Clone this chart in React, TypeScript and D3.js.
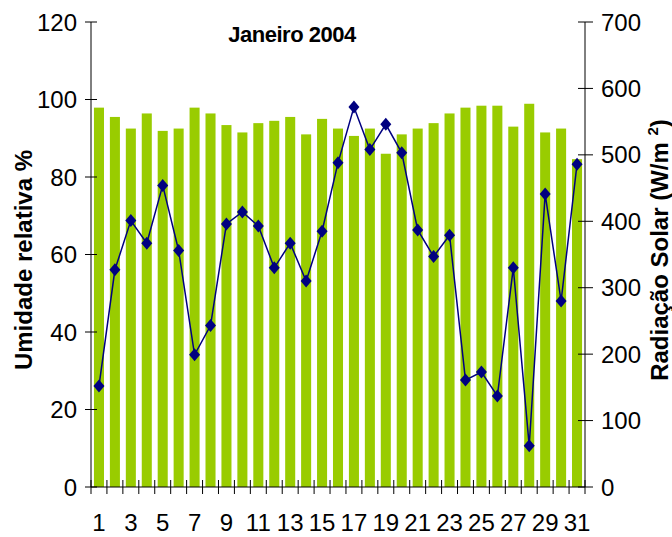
import React from "react";
import * as d3 from "d3";

const days = Array.from({ length: 31 }, (_, i) => String(i + 1));
const humidity = [97.9, 95.5, 92.5, 96.4, 91.9, 92.5, 97.9, 96.4, 93.4, 91.5, 93.9, 94.5, 95.5, 91.0, 95.0, 92.5, 90.6, 92.5, 86.0, 91.0, 92.5, 93.9, 96.4, 97.9, 98.4, 98.4, 93.0, 98.9, 91.5, 92.5, 84.6];
const radiation = [152, 327, 401, 367, 454, 356, 199, 243, 396, 414, 393, 330, 367, 310, 385, 488, 572, 508, 546, 503, 387, 347, 379, 161, 173, 137, 330, 62, 441, 280, 486];
const leftTicks = [0, 20, 40, 60, 80, 100, 120];
const rightTicks = [0, 100, 200, 300, 400, 500, 600, 700];
const title = "Janeiro 2004";

const W = 672, H = 537;
const L = 91, R = 585, T = 22, B = 487;
const FONT = "'Liberation Sans', Arial, sans-serif";

export default function App() {
  const x = d3.scaleBand<string>().domain(days).range([L, R]).paddingInner(0.37).paddingOuter(0.185);
  const yL = d3.scaleLinear().domain([0, 120]).range([B, T]);
  const yR = d3.scaleLinear().domain([0, 700]).range([B, T]);
  const step = x.step();
  const line = d3.line<number>()
    .x((_, i) => (x(days[i]) as number) + x.bandwidth() / 2)
    .y((d) => yR(d));
  const diamond = (cx: number, cy: number, rx: number, ry: number) =>
    `M${cx},${cy - ry}L${cx + rx},${cy}L${cx},${cy + ry}L${cx - rx},${cy}Z`;
  const boundaries = d3.range(days.length + 1).map((i) => L + i * step);

  return (
    <svg width={W} height={H} style={{ position: "absolute", left: 0, top: 0, background: "#fff" }} fontFamily={FONT}>
      <rect x={0} y={0} width={W} height={H} fill="#fff" />
      {humidity.map((v, i) => (
        <rect key={i} x={x(days[i])} y={yL(v)} width={x.bandwidth()} height={B - yL(v)} fill="#99CC00" />
      ))}
      <path d={line(radiation) || ""} fill="none" stroke="#000080" strokeWidth={1.5} />
      {radiation.map((v, i) => (
        <path key={i} d={diamond((x(days[i]) as number) + x.bandwidth() / 2, yR(v), 5.5, 6.5)} fill="#000080" />
      ))}
      {/* axes */}
      <line x1={L} x2={L} y1={T} y2={B} stroke="#000" strokeWidth={1} />
      <line x1={R} x2={R} y1={T} y2={B} stroke="#000" strokeWidth={1} />
      <line x1={L} x2={R} y1={B} y2={B} stroke="#000" strokeWidth={1} />
      {leftTicks.map((t) => (
        <g key={t}>
          <line x1={L - 6} x2={L + 6} y1={yL(t)} y2={yL(t)} stroke="#000" />
          <text x={L - 14} y={yL(t)} dy="0.36em" textAnchor="end" fontSize={24} fill="#000">{t}</text>
        </g>
      ))}
      {rightTicks.map((t) => (
        <g key={t}>
          <line x1={R - 7} x2={R + 8} y1={yR(t)} y2={yR(t)} stroke="#000" />
          <text x={R + 16} y={yR(t)} dy="0.36em" textAnchor="start" fontSize={24} fill="#000">{t}</text>
        </g>
      ))}
      {boundaries.map((bx, i) => (
        <line key={i} x1={bx} x2={bx} y1={B - 7} y2={B + 7} stroke="#000" />
      ))}
      {days.map((d, i) => (i % 2 === 0 ? (
        <text key={d} x={(x(d) as number) + x.bandwidth() / 2} y={531} textAnchor="middle" fontSize={24} fill="#000">{d}</text>
      ) : null))}
      <text x={292} y={42} textAnchor="middle" fontSize={22} fontWeight="bold" fill="#000" letterSpacing={-0.5}>{title}</text>
      <text transform="translate(32,260) rotate(-90)" textAnchor="middle" fontSize={24} fontWeight="bold" fill="#000">Umidade relativa %</text>
      <text transform="translate(668,250) rotate(-90)" textAnchor="middle" fontSize={24} fontWeight="bold" fill="#000">
        Radiação Solar (W/m <tspan fontSize={15} dy={-10}>2</tspan><tspan dy={10}>)</tspan>
      </text>
    </svg>
  );
}
